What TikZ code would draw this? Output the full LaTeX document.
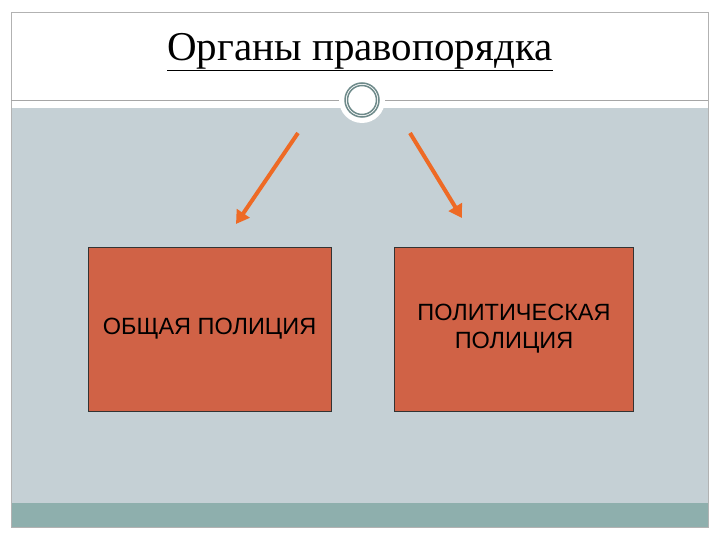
\documentclass[tikz,border=0pt]{standalone}
\usepackage{fontspec}
\setmainfont{Liberation Serif}
\newfontfamily\arial{Liberation Sans}
\usetikzlibrary{arrows.meta}
\definecolor{bg}{HTML}{C5D0D5}
\definecolor{band}{HTML}{8EAFAD}
\definecolor{boxc}{HTML}{D06246}
\definecolor{arr}{HTML}{EE6A25}
\definecolor{ring}{HTML}{6E8A8A}
\tikzset{
  box/.style={draw=black!80, line width=0.8pt, fill=boxc, minimum width=239pt, minimum height=164pt, inner sep=0pt, align=center, font=\arial\fontsize{23.5}{28}\selectfont},
  arrow/.style={draw=arr, line width=4pt, -{Triangle[length=13pt,width=15pt]}}
}
\begin{document}
\begin{tikzpicture}[x=1pt,y=-1pt]
\useasboundingbox (0,0) rectangle (720,540);
\fill[white] (0,0) rectangle (720,540);
\fill[bg] (11,108) rectangle (708,503);
\fill[band] (11,503) rectangle (708,527);
\draw[gray!60, line width=0.8pt] (11,12) rectangle (708,527);
\draw[gray!70, line width=0.8pt] (11,100) -- (708,100);
\node[circle, fill=white, minimum size=46pt, inner sep=0pt] (orn) at (362,100) {};
\draw[ring, line width=1.5pt] (362,100) circle (17);
\draw[ring, line width=1.5pt] (362,100) circle (14.5);
\node[font=\fontsize{41}{46}\selectfont] (title) at (360,52) {\underline{Органы правопорядка}};
\node[box, minimum width=243pt] (a) at (209.5,329) {ОБЩАЯ ПОЛИЦИЯ};
\node[box] (b) at (514,329) {ПОЛИТИЧЕСКАЯ\\ПОЛИЦИЯ};
\coordinate (a1) at (298,133); \coordinate (a2) at (236,224);
\coordinate (b1) at (410,133); \coordinate (b2) at (462,218);
\draw[arrow] (a1) -- (a2);
\draw[arrow] (b1) -- (b2);
\end{tikzpicture}
\end{document}
